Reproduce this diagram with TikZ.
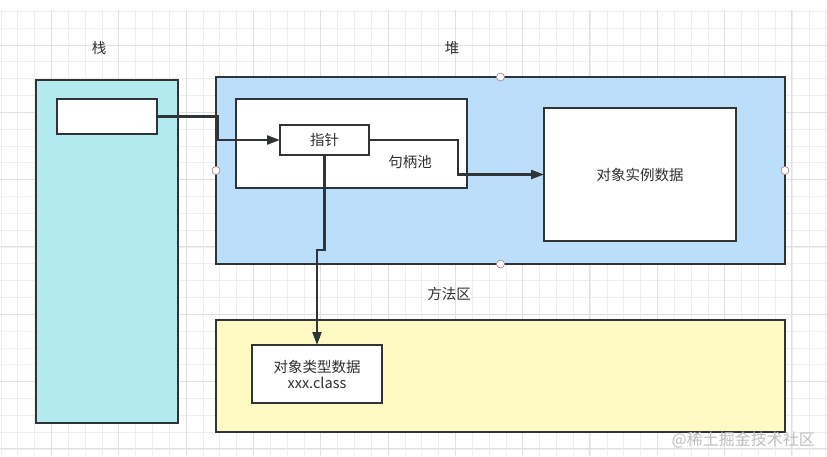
\documentclass[tikz,border=0pt]{standalone}
\usepackage{fontspec}
\setmainfont{Noto Sans CJK SC}
\usetikzlibrary{arrows.meta}
\definecolor{edge}{HTML}{303436}
\definecolor{txt}{HTML}{303030}
\definecolor{stackfill}{HTML}{B2EBEF}
\definecolor{heapfill}{HTML}{BBDEFB}
\definecolor{methfill}{HTML}{FFF9C4}
\definecolor{gridminor}{HTML}{EEEEEE}
\definecolor{gridmajor}{HTML}{E0E0E0}
\definecolor{handle}{HTML}{B07A7A}
\tikzset{
  box/.style={draw=edge, line width=2pt, rectangle, inner sep=0pt, outer sep=0pt},
  lbl/.style={text=txt, font=\fontsize{14.5}{17}\selectfont, inner sep=0pt},
  conn/.style={draw=edge, line width=2.2pt, -{Triangle[length=13pt,width=9pt]}},
  grip/.style={circle, draw=handle, fill=white, line width=0.6pt, minimum size=8pt, inner sep=0pt}
}
\begin{document}
\begin{tikzpicture}[x=1pt,y=-1pt]
\useasboundingbox (0,0) rectangle (827,456);
\fill[white] (0,0) rectangle (827,456);
% grid
\foreach \i in {-3,...,50} {
  \pgfmathsetmacro{\gx}{51.5+16.83*\i}
  \draw[gridminor, line width=0.7pt] (\gx,10) -- (\gx,456);
}
\foreach \i in {-2,...,26} {
  \pgfmathsetmacro{\gy}{45+16.83*\i}
  \ifdim \gy pt > 10pt \draw[gridminor, line width=0.7pt] (0,\gy) -- (827,\gy); \fi
}
\foreach \i in {0,...,12} {
  \pgfmathsetmacro{\gx}{51.5+67.3*\i}
  \draw[gridmajor, line width=0.9pt] (\gx,10) -- (\gx,456);
}
\foreach \i in {0,...,6} {
  \pgfmathsetmacro{\gy}{45+67.3*\i}
  \draw[gridmajor, line width=0.9pt] (0,\gy) -- (827,\gy);
}
% labels
\node[lbl] (lstack) at (99,48) {栈};
\node[lbl] (lheap) at (452,48) {堆};
\node[lbl] (lmeth) at (449,294) {方法区};
% stack
\node[box, fill=stackfill, minimum width=142pt, minimum height=343pt] (stack) at (107,251.5) {};
\node[box, fill=white, minimum width=100pt, minimum height=35pt] (cell) at (107,116.5) {};
% heap
\node[box, fill=heapfill, minimum width=569pt, minimum height=187pt] (heap) at (500.5,170.5) {};
\node[box, fill=white, minimum width=231pt, minimum height=89pt] (pool) at (351.5,143.5) {};
\node[lbl] (lpool) at (410,162) {句柄池};
\node[box, fill=white, minimum width=89pt, minimum height=30pt, lbl] (ptr) at (324.5,140) {指针};
\node[box, fill=white, minimum width=192pt, minimum height=133pt, lbl] (obj) at (640,174.5) {对象实例数据};
% method area
\node[box, fill=methfill, minimum width=569pt, minimum height=112pt] (meth) at (500.5,376) {};
\node[box, fill=white, minimum width=130pt, minimum height=58pt, lbl, align=center] (cls) at (317,374) {对象类型数据\\[-1pt]xxx.class};
% connectors
\draw[conn, line width=2.2pt] (cell.east) -- ++(61,0) |- (ptr.west);
\draw[conn, line width=2.2pt] (ptr.east) -- ++(89,0) |- (obj.west);
\draw[conn, line width=2.2pt] (ptr.south) -- ++(0,95) -| (cls.north);
% selection handles
\node[grip] (g1) at (heap.north) {};
\node[grip] (g2) at (heap.south) {};
\node[grip] (g3) at (heap.west) {};
\node[grip] (g4) at (heap.east) {};
% watermark
\node[text=black!25, font=\fontsize{16}{18}\selectfont, anchor=east, inner sep=0pt] (wm) at (815,440) {@稀土掘金技术社区};
\end{tikzpicture}
\end{document}
